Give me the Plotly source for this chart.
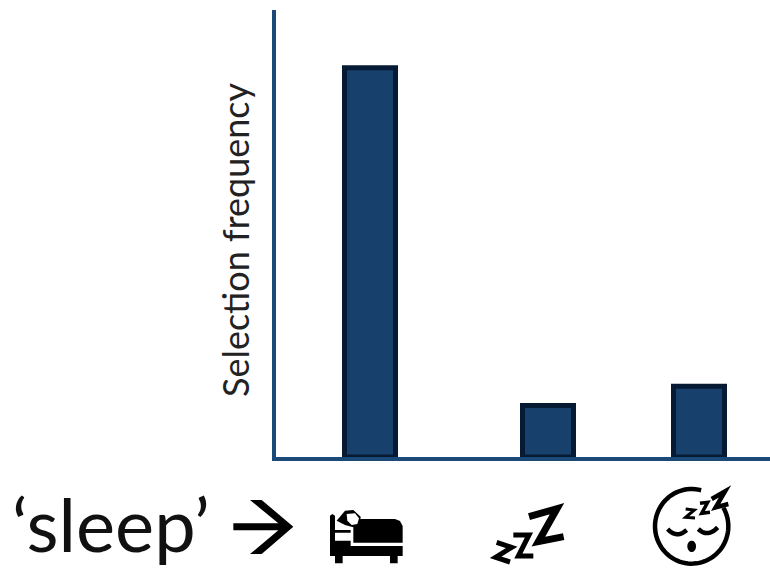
import math
import plotly.graph_objects as go

categories = ["bed", "zzz", "sleeping face"]
bar_positions = [94, 272, 423]
selection_frequency = [0.871, 0.115, 0.158]

W, H = 770, 568
BLACK = "#000000"


def px(x, y):
    return f"{x / W:.5f},{1 - y / H:.5f}"


def path(points, close=False):
    s = "M" + " L".join(px(x, y) for x, y in points)
    return s + (" Z" if close else "")


def zoom_pts(pts, ox, oy):
    return [(ox + a / 3, oy + b / 3) for a, b in pts]


shapes = []


def fill(pts, color=BLACK):
    shapes.append(dict(type="path", xref="paper", yref="paper", path=path(pts, True),
                       fillcolor=color, line=dict(width=0), layer="above"))


def stroke(pts, width, color=BLACK):
    shapes.append(dict(type="path", xref="paper", yref="paper", path=path(pts),
                       line=dict(color=color, width=width), layer="above"))


def ellipse(cx, cy, rx, ry, n=40, start=0, end=360):
    return [(cx + rx * math.cos(math.radians(start + (end - start) * i / n)),
             cy + ry * math.sin(math.radians(start + (end - start) * i / n))) for i in range(n + 1)]


def curve(a, b, c, n=14):
    out = []
    for i in range(n + 1):
        t = i / n
        out.append(((1 - t) ** 2 * a[0] + 2 * t * (1 - t) * b[0] + t * t * c[0],
                    (1 - t) ** 2 * a[1] + 2 * t * (1 - t) * b[1] + t * t * c[1]))
    return out


# Arrow
fill(zoom_pts([(750, 30), (785, 30), (880, 110), (785, 192), (750, 192), (835, 121),
               (700, 121), (700, 100), (835, 100)], 0, 490))

# Bed
B = (320, 500)
fill(zoom_pts([(30, 47), (37, 42), (45, 47), (45, 90), (92, 90), (92, 98), (45, 98), (45, 122),
               (92, 122), (92, 138), (248, 138), (248, 168), (233, 168), (233, 190), (210, 190),
               (210, 168), (68, 168), (68, 190), (45, 190), (45, 168), (30, 168)], *B))
fill(zoom_pts([(100, 128), (100, 78), (122, 57), (225, 57), (240, 63), (248, 78), (248, 128)], *B))
fill(zoom_pts([(50, 62), (75, 32), (100, 30), (122, 50), (120, 72), (100, 82), (75, 75)], *B))
fill(zoom_pts([(80, 42), (105, 40), (117, 55), (112, 72), (95, 75), (82, 62)], *B), "#ffffff")

# Zzz
Z = (485, 500)
stroke(zoom_pts([(132, 50), (216, 26), (160, 125), (236, 110)], *Z), 7)
stroke(zoom_pts([(85, 105), (132, 105), (100, 168), (145, 168)], *Z), 5)
stroke(zoom_pts([(35, 127), (80, 142), (32, 172), (75, 186)], *Z), 5)

# Sleeping face
F = (645, 484)
stroke(zoom_pts(ellipse(140, 127, 110, 112, n=70, start=-30, end=285), *F), 4.5)
stroke(zoom_pts(curve((68, 135), (95, 165), (125, 138)), *F), 4.5)
stroke(zoom_pts(curve((160, 135), (188, 162), (218, 130)), *F), 4.5)
fill(zoom_pts(ellipse(140, 187, 13, 17), *F))
stroke(zoom_pts([(122, 75), (148, 78), (122, 100), (150, 102)], *F), 3)
stroke(zoom_pts([(165, 58), (188, 55), (170, 88), (195, 85)], *F), 3.5)
stroke(zoom_pts([(200, 45), (240, 22), (212, 70), (250, 60)], *F), 4.5)

fig = go.Figure(go.Bar(
    x=bar_positions, y=selection_frequency, width=51, text=categories, hoverinfo="text",
    textposition="none",
    marker=dict(color="#17406d", line=dict(color="#071a33", width=5)),
))

AXIS = "#1c4a78"
fig.update_layout(
    width=W, height=H, margin=dict(l=0, r=0, t=0, b=0), autosize=False,
    paper_bgcolor="white", plot_bgcolor="white", showlegend=False,
    font=dict(family="Lato", color="#222222"),
    xaxis=dict(domain=[276 / W, 1], range=[0, 494], showgrid=False, zeroline=False,
               showticklabels=False, ticks="", showline=True, linecolor=AXIS, linewidth=4),
    yaxis=dict(domain=[1 - 457 / H, 1 - 10 / H], range=[0, 1], showgrid=False, zeroline=False,
               showticklabels=False, ticks="", showline=True, linecolor=AXIS, linewidth=4),
    shapes=shapes,
    annotations=[
        dict(text="‘sleep’", xref="paper", yref="paper", x=10 / W, y=1 - 523.5 / H,
             xanchor="left", yanchor="middle", showarrow=False,
             font=dict(size=74, family="Lato", color="#111111")),
        dict(text="Selection frequency", xref="paper", yref="paper", x=235 / W, y=1 - 240 / H,
             xanchor="center", yanchor="middle", textangle=-90, showarrow=False,
             font=dict(size=36, family="Lato", color="#222222")),
    ],
)
fig.write_html("out.html", post_script="document.body.style.margin='0';",
               config=dict(displayModeBar=False))
